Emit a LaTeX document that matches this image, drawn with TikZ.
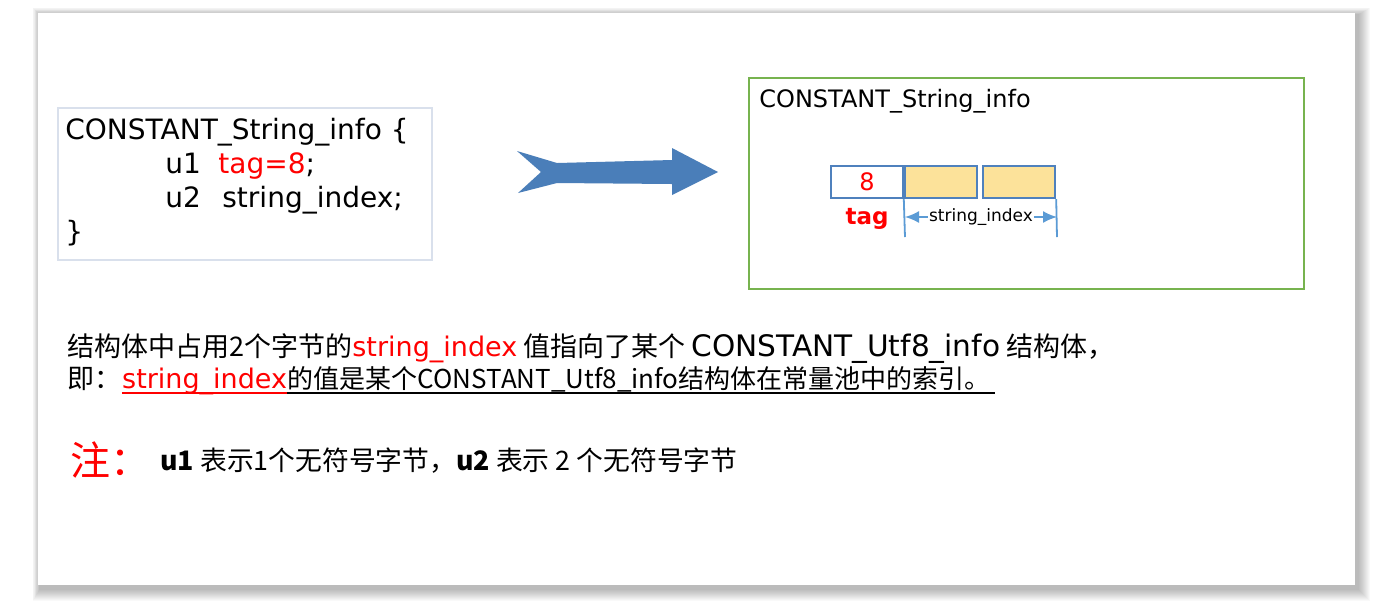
\documentclass[tikz,border=0pt]{standalone}
\usepackage{fontspec}
\usepackage{xcolor}
\newfontfamily\cjk{Noto Sans CJK SC}
\newfontfamily\comic{DejaVu Sans}
\usetikzlibrary{positioning,arrows.meta}

\definecolor{codeframe}{HTML}{D9E0EC}
\definecolor{boxgreen}{HTML}{77B34F}
\definecolor{cellblue}{HTML}{4F81BD}
\definecolor{cellfill}{HTML}{FCE29A}
\definecolor{dimblue}{HTML}{5B9BD5}
\definecolor{arrowblue}{HTML}{4A7EB9}

\tikzset{
  txt/.style={anchor=base west, inner sep=0pt},
  cellbox/.style={draw=cellblue, line width=1.2pt, minimum width=36pt, minimum height=16pt, inner sep=0pt},
  dimline/.style={draw=dimblue, line width=0.9pt}
}

\begin{document}
\begin{tikzpicture}[x=0.5pt, y=-0.5pt]
  \useasboundingbox (0,0) rectangle (1373,602);
  \fill[white] (0,0) rectangle (1373,602);

  % Page with soft shadow
  \foreach \s in {12,11,...,1}
    \fill[black, opacity=0.025] (38-\s*0.6+2,13-\s*0.6+2) rectangle (1355+\s+3,585+\s+4);
  \fill[white] (38,13) rectangle (1355,585);

  % Struct definition
  \draw[codeframe, line width=0.8pt] (58,108) rectangle (432,260);
  \node[txt, font=\comic\fontsize{14}{16}\selectfont] (code1) at (65,139) {CONSTANT\_String\_info \{};
  \node[txt, font=\comic\fontsize{14}{16}\selectfont] (code2) at (165,173) {u1};
  \node[txt, font=\comic\fontsize{14}{16}\selectfont] (code2b) at (218,173) {\textcolor{red}{tag=8};};
  \node[txt, font=\comic\fontsize{14}{16}\selectfont] (code3) at (165,207) {u2};
  \node[txt, font=\comic\fontsize{14}{16}\selectfont] (code3b) at (222,207) {string\_index;};
  \node[txt, font=\comic\fontsize{14}{16}\selectfont] (code4) at (65,241) {\}};

  % Block arrow
  \fill[arrowblue] (517,151) -- (557,163) -- (672,160) -- (672,148) -- (718,172)
    -- (672,195) -- (672,184) -- (557,183) -- (518,193) -- (541,172) -- cycle;

  % Layout of the structure
  \draw[boxgreen, line width=1pt] (749,78) rectangle (1304,289);
  \node[txt, font=\comic\fontsize{12}{14}\selectfont] (title) at (759,107) {CONSTANT\_String\_info};
  \node[cellbox, fill=white, text=red, font=\comic\fontsize{12}{14}\selectfont] (cellTag) at (867,182) {8};
  \node[cellbox, fill=cellfill] (cellIdxA) at (941,182) {};
  \node[cellbox, fill=cellfill] (cellIdxB) at (1019,182) {};
  \node[text=red, font=\comic\bfseries\fontsize{11.5}{13}\selectfont, below=1pt of cellTag] (tagLabel) {tag};

  % Width of string_index
  \coordinate (idxL) at (905,237);
  \coordinate (idxR) at (1057,237);
  \draw[dimline] (cellIdxA.south west) -- (idxL);
  \draw[dimline] (cellIdxB.south east) -- (idxR);
  \draw[dimline, {Latex[length=7pt,width=6pt]}-{Latex[length=7pt,width=6pt]}] (905,217) -- (1057,217)
    node[midway, fill=white, inner sep=0.5pt, text=black, font=\comic\fontsize{8.5}{10}\selectfont] (idxLabel) {string\_index};

  % Explanation
  \node[txt, font=\cjk\fontsize{13.5}{16}\selectfont] (note1) at (67,356)
    {结构体中占用2个字节的{\comic\color{red}string\_index} 值指向了某个 {\comic\fontsize{14.8}{16}\selectfont CONSTANT\_Utf8\_info} 结构体，};
  \node[txt, font=\cjk\fontsize{13.5}{16}\selectfont] (note2a) at (67,388) {即：};
  \node[txt, font=\comic\fontsize{13.5}{16}\selectfont, text=red] (note2b) at (note2a.base east) {string\_index};
  \node[txt, font=\cjk\fontsize{13}{16}\selectfont] (note2c) at (note2b.base east) {的值是某个CONSTANT\_Utf8\_info结构体在常量池中的索引。};
  \draw[red, line width=0.8pt] ([yshift=-2.5pt]note2b.base west) -- ([yshift=-2.5pt]note2b.base east);
  \draw[line width=0.8pt] ([yshift=-2.5pt]note2b.base east) -- ([yshift=-2.5pt]note2c.base east) -- ++(4,0);

  % Note
  \node[txt, text=red, font=\cjk\fontsize{20}{22}\selectfont] (noteHead) at (70,475) {注：};
  \node[txt, font=\cjk\fontsize{13.4}{16}\selectfont] (noteBody) at (160,470)
    {\textbf{u1} 表示1个无符号字节，\textbf{u2} 表示 2 个无符号字节};
\end{tikzpicture}
\end{document}
